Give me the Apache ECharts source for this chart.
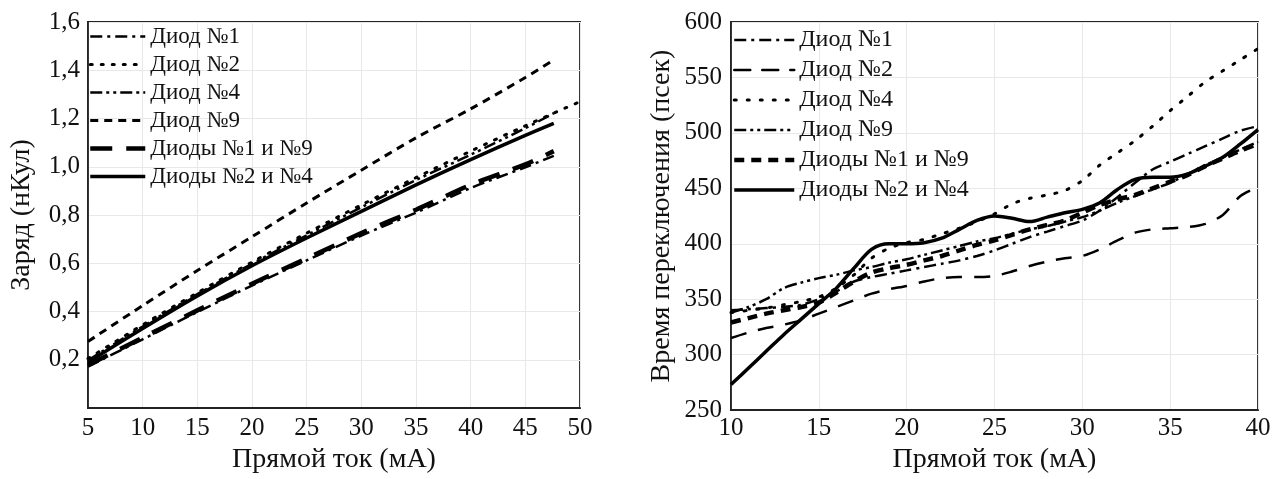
<!DOCTYPE html>
<html>
<head>
<meta charset="utf-8">
<script src="https://cdn.jsdelivr.net/npm/echarts@6/dist/echarts.min.js"></script>
<style>
  html, body { margin: 0; padding: 0; background: #fff; }
  #chart { width: 1282px; height: 479px; }
</style>
</head>
<body>
<div id="chart"></div>
<script>
// ---------- Data: left chart (Заряд vs Прямой ток) ----------
const leftX   = [5, 10, 15, 20, 25, 30, 35, 40, 45, 47.6];
const leftX2  = [5, 10, 15, 20, 25, 30, 35, 40, 45, 50];
const qDiode1   = [0.172, 0.285, 0.398, 0.508, 0.612, 0.715, 0.810, 0.912, 0.998, 1.045];
const qDiode2   = [0.205, 0.345, 0.478, 0.605, 0.725, 0.842, 0.955, 1.065, 1.170, 1.270];
const qDiode4   = [0.198, 0.338, 0.472, 0.598, 0.716, 0.832, 0.945, 1.050, 1.160, 1.222];
const qDiode9   = [0.276, 0.425, 0.570, 0.710, 0.850, 0.986, 1.120, 1.240, 1.370, 1.443];
const qDiodes19 = [0.178, 0.292, 0.405, 0.515, 0.620, 0.725, 0.822, 0.925, 1.010, 1.065];
const qDiodes24 = [0.190, 0.330, 0.465, 0.590, 0.705, 0.815, 0.925, 1.030, 1.130, 1.180];

// ---------- Data: right chart (Время переключения vs Прямой ток) ----------
const rightX = [10,11,12,13,14,15,16,17,18,19,20,21,22,23,24,25,26,27,28,29,30,31,32,33,34,35,36,37,38,39,40];
const tDiode1   = [340,341,342,343,345,350,357,366,370,373,376,379,382,385,389,394,400,406,411,416,421,430,442,455,467,474,481,488,495,502,506];
const tDiode2   = [315,320,324,327,331,337,343,349,355,359,362,366,369,370,370,371,375,380,384,387,389,395,403,410,413,414,415,418,426,443,451];
const tDiode4   = [338,340,342,345,348,352,360,372,387,396,401,404,409,414,420,427,436,441,444,448,457,471,482,493,506,520,533,546,556,566,576];
const tDiode9   = [338,343,350,360,365,369,372,376,379,383,386,390,394,398,402,405,409,413,416,420,424,430,437,443,449,455,463,471,478,485,492];
const tDiodes19 = [329,333,337,340,343,347,356,366,374,378,381,385,389,394,399,403,408,413,417,421,428,435,440,444,450,456,462,470,477,484,490];
const tDiodes24 = [273,288,303,318,332,346,360,378,395,400,400,401,405,413,421,425,423,420,424,428,431,437,449,458,460,460,463,470,478,490,503];

const names = ['Диод №1', 'Диод №2', 'Диод №4', 'Диод №9', 'Диоды №1 и №9', 'Диоды №2 и №4'];

function zip(xs, ys) { return ys.map((y, i) => [xs[i], y]); }

const FONT = 'Liberation Serif';

// line styles
const leftStyles = [
  { width: 2.5, type: [12, 5, 3, 5] },
  { width: 3, type: [2, 9], cap: 'round' },
  { width: 2.5, type: [12, 4, 3, 4, 3, 4] },
  { width: 3, type: [8, 6] },
  { width: 4.5, type: [22, 14] },
  { width: 3.5, type: 'solid' }
];
const rightStyles = [
  { width: 2.5, type: [12, 5, 3, 5] },
  { width: 2.5, type: [16, 12] },
  { width: 3, type: [2, 11], cap: 'round' },
  { width: 2.5, type: [12, 4, 3, 4, 3, 4] },
  { width: 4.5, type: [10, 7] },
  { width: 3.5, type: 'solid' }
];

const leftData = [
  zip(leftX, qDiode1), zip(leftX2, qDiode2), zip(leftX, qDiode4),
  zip(leftX, qDiode9), zip(leftX, qDiodes19), zip(leftX, qDiodes24)
];
const rightData = [
  zip(rightX, tDiode1), zip(rightX, tDiode2), zip(rightX, tDiode4),
  zip(rightX, tDiode9), zip(rightX, tDiodes19), zip(rightX, tDiodes24)
];

const series = [];
names.forEach((n, i) => {
  series.push({
    name: n, type: 'line', xAxisIndex: 0, yAxisIndex: 0,
    data: leftData[i], symbol: 'none', smooth: 0.3,
    lineStyle: Object.assign({ color: '#000' }, leftStyles[i]),
    itemStyle: { color: '#000' }, z: 3
  });
});
names.forEach((n, i) => {
  series.push({
    name: n, type: 'line', xAxisIndex: 1, yAxisIndex: 1,
    data: rightData[i], symbol: 'none', smooth: 0.3,
    lineStyle: Object.assign({ color: '#000' }, rightStyles[i]),
    itemStyle: { color: '#000' }, z: 3
  });
});

function legendData(styles) {
  return names.map((n, i) => ({
    name: n,
    lineStyle: Object.assign({ color: '#000' }, styles[i]),
    itemStyle: { opacity: 0, color: 'rgba(0,0,0,0)', borderWidth: 0 }
  }));
}

const axisLabel = { fontFamily: FONT, fontSize: 25, color: '#111' };
const nameStyle = { fontFamily: FONT, fontSize: 28, color: '#111' };
const splitLine = { show: true, lineStyle: { color: '#e8e8e8', width: 1 } };
const axisLine = { show: true, onZero: false, lineStyle: { color: '#222', width: 1.8 } };

const option = {
  backgroundColor: '#fff',
  animation: false,
  grid: [
    { left: 88, right: 1282 - 580, top: 22, bottom: 61, show: true, borderColor: '#222', borderWidth: 1.8, containLabel: false },
    { left: 731, right: 24, top: 22, bottom: 61, show: true, borderColor: '#222', borderWidth: 1.8, containLabel: false }
  ],
  xAxis: [
    { gridIndex: 0, type: 'value', min: 5, max: 50, interval: 5,
      name: 'Прямой ток (мА)', nameLocation: 'middle', nameGap: 32, nameTextStyle: nameStyle,
      axisLabel: Object.assign({ margin: 8 }, axisLabel), axisTick: { show: false },
      axisLine: axisLine, splitLine: splitLine },
    { gridIndex: 1, type: 'value', min: 10, max: 40, interval: 5,
      name: 'Прямой ток (мА)', nameLocation: 'middle', nameGap: 32, nameTextStyle: nameStyle,
      axisLabel: Object.assign({ margin: 6 }, axisLabel), axisTick: { show: false },
      axisLine: axisLine, splitLine: splitLine }
  ],
  yAxis: [
    { gridIndex: 0, type: 'value', min: 0, max: 1.6, interval: 0.2,
      name: 'Заряд (нКул)', nameLocation: 'middle', nameGap: 52, nameTextStyle: nameStyle,
      axisLabel: Object.assign({ margin: 8,
        formatter: v => (Math.abs(v) < 1e-9 ? '' : v.toFixed(1).replace('.', ',')) }, axisLabel),
      axisTick: { show: false }, axisLine: axisLine, splitLine: splitLine },
    { gridIndex: 1, type: 'value', min: 250, max: 600, interval: 50,
      name: 'Время переключения (псек)', nameLocation: 'middle', nameGap: 55, nameTextStyle: nameStyle,
      axisLabel: Object.assign({ margin: 9 }, axisLabel),
      axisTick: { show: false }, axisLine: axisLine, splitLine: splitLine }
  ],
  legend: [
    { left: 88, top: 25, orient: 'vertical', padding: 0, itemGap: 5, itemWidth: 55, itemHeight: 12,
      selectedMode: false, data: legendData(leftStyles),
      textStyle: { fontFamily: FONT, fontSize: 23, color: '#111', lineHeight: 23 } },
    { left: 732, top: 28, orient: 'vertical', padding: 0, itemGap: 6, itemWidth: 60, itemHeight: 12,
      selectedMode: false, data: legendData(rightStyles),
      textStyle: { fontFamily: FONT, fontSize: 24, color: '#111', lineHeight: 23 } }
  ],
  series: series
};

const chart = echarts.init(document.getElementById('chart'), null, { renderer: 'canvas' });
chart.setOption(option);
</script>
</body>
</html>
